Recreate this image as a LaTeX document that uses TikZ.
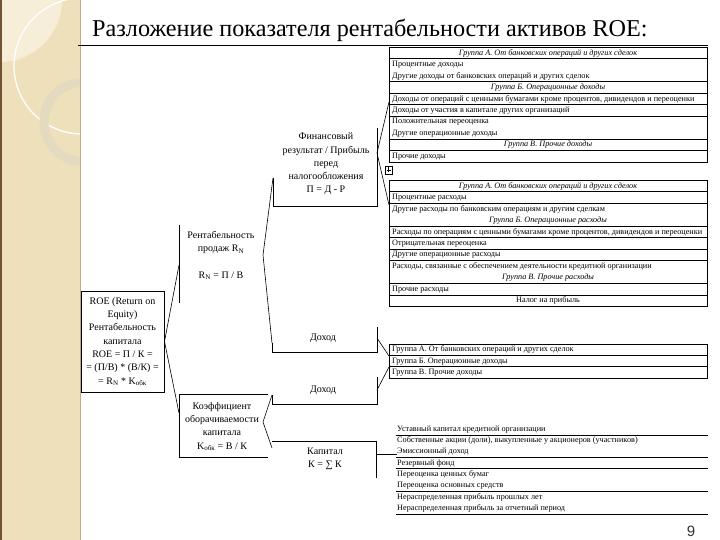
\documentclass[tikz,border=0pt]{standalone}
\usepackage{fontspec}
\setmainfont{Liberation Serif}
\newfontfamily\nomerfont{Liberation Sans}
\usetikzlibrary{positioning}
\usetikzlibrary{calc}
\definecolor{bezh}{RGB}{238,224,186}
\definecolor{bezhsvet}{RGB}{246,238,216}
\definecolor{bezhkrug}{RGB}{228,218,192}
\definecolor{korich}{RGB}{112,82,52}
\definecolor{korichsvet}{RGB}{196,168,128}
\newcommand{\rowh}{11.45}
\tikzset{
  diagramma/.style={
    box text/.style={font={\fontsize{10}{13.3}\selectfont},align=center,inner sep=0pt},
    sleva/.style={font={\fontsize{8.2}{9.8}\selectfont},anchor=west,inner sep=0pt,text height=5.7pt,text depth=1.6pt},
    centr/.style={sleva,anchor=center,xshift=156pt},
    grupp/.style={centr,font={\fontsize{8.2}{9.8}\selectfont\itshape}},
    tab frame/.style={draw,line width=1pt,anchor=north west,minimum width=318pt,inner sep=0pt},
    rama/.style={line width=1pt},
    svyaz/.style={line width=0.6pt},
  }
}
\newcommand{\tablica}[4]{
    \foreach \t/\s [count=\i] in {#4}{
        \pgfmathsetmacro{\yy}{#2+\rowh*(\i-0.5)}
        \node[\s] (#1-\i) at (392,\yy) {\t};
    }
    \foreach \k in {#3}{
        \pgfmathsetmacro{\yy}{#2+\rowh*\k}
        \draw[rama] (389,\yy) -- (707,\yy);
    }
}

\begin{document}
\begin{tikzpicture}[diagramma, x=1pt, y=-1pt]
    \useasboundingbox (0,0) rectangle (720,540);

    % polosa sleva
    \fill[bezh] (0,0) rectangle (80,540);
    \begin{scope}
    \clip (0,0) rectangle (80,540);
    \fill[bezhsvet] (0,0) circle (62pt);
    \draw[white,line width=1.3pt] (82,66) circle (68pt);
    \draw[bezhkrug,line width=9pt] (84,122) circle (40pt);
    \end{scope}
    \draw[korich,line width=1.5pt] (0.75,0) -- (0.75,540);
    \draw[korichsvet,line width=0.8pt] (80,0) -- (80,540);

    \node[anchor=base west,inner sep=0pt,font={\fontsize{24.2}{28}\selectfont}] (zagolovok) at (92,37)
        {Разложение показателя рентабельности активов ROE:};
    \draw[line width=1.1pt] (78,45.5) -- (708,45.5);

    % levaya chast
    \node[box text,draw,rama,minimum width=83pt,minimum height=101pt] (roe) at (122.5,341.5)
        {ROE (Return on\\ Equity)\\ Рентабельность\\ капитала\\ ROE = П / К =\\ = (П/В) * (В/К) =\\ = R\textsubscript{N} * K\textsubscript{обк}};
    \node[box text] (rent) at (221,255.5)
        {Рентабельность\\ продаж R\textsubscript{N}\\[13.3pt] R\textsubscript{N} = П / В};
    \node[box text] (koef) at (222,426.5)
        {Коэффициент\\ оборачиваемости\\ капитала\\ K\textsubscript{обк} = В / К};
    \node[box text] (finrez) at (326,164)
        {Финансовый\\ результат / Прибыль\\ перед\\ налогообложения\\ П = Д - Р};
    \node[box text] (dohod1) at (323,338) {Доход};
    \node[box text] (dohod2) at (323,390) {Доход};
    \node[box text] (kapital) at (325,459) {Капитал\\ К = ∑ К};

    \draw[rama] (179,225) -- (179,303);
    \draw[rama] (268,394) -- (179,394) -- (179,457) -- (268,457);
    \draw[rama] (273,178) -- (273,207) -- (377,207) -- (377,128);
    \draw[rama] (272,343) -- (272,352) -- (377,352) -- (377,327);
    \draw[rama] (272,395) -- (272,404) -- (377,404) -- (377,377);
    \draw[rama] (272,441) -- (376,441) -- (376,478);

    \coordinate (rent-l) at (179,265);
    \coordinate (koef-l) at (179,413);
    \coordinate (rent-v) at (263,255);
    \coordinate (fin-l) at (273,178);
    \coordinate (doh1-l) at (272,343);
    \coordinate (koef-v) at (263,422);
    \coordinate (doh2-l) at (272,395);
    \coordinate (kap-l) at (272,448);
    \coordinate (fin-v) at (377,153);
    \coordinate (dohody-l) at (389,102);
    \coordinate (rashody-l) at (389,205);
    \coordinate (doh1-v) at (377,338);
    \coordinate (gruppy-l1) at (389,356);
    \coordinate (doh2-v) at (377,390);
    \coordinate (gruppy-l2) at (389,367);
    \coordinate (kap-v) at (376,454);
    \coordinate (sostav-l) at (397,454);

    \draw[svyaz] (roe.east) -- (rent-l) (roe.east) -- (koef-l);
    \draw[svyaz] (rent-v) -- (fin-l) (rent-v) -- (doh1-l);
    \draw[svyaz] (koef-v) -- (doh2-l) (koef-v) -- (kap-l);
    \draw[svyaz] (fin-v) -- (dohody-l) (fin-v) -- (rashody-l);
    \draw[svyaz] (doh1-v) -- (gruppy-l1) (doh2-v) -- (gruppy-l2);
    \draw[svyaz] (kap-v) -- (sostav-l);

    % tablicy
    \node[tab frame,minimum height=114.5pt] (dohody) at (389,47.5) {};
    \tablica{d}{47.5}{1,3,4,5,6,8,9}{
        {Группа А. От банковских операций и других сделок}/grupp,
        {Процентные доходы}/sleva,
        {Другие доходы от банковских операций и других сделок}/sleva,
        {Группа Б. Операционные доходы}/grupp,
        {Доходы от операций с ценными бумагами кроме процентов, дивидендов и переоценки}/sleva,
        {Доходы от участия в капитале других организаций}/sleva,
        {Положительная переоценка}/sleva,
        {Другие операционные доходы}/sleva,
        {Группа В. Прочие доходы}/grupp,
        {Прочие доходы}/sleva}

    \draw[line width=0.5pt] (385,166) rectangle (392,174)
        (388.5,167.5) -- (388.5,172.5) (386.5,170) -- (390.5,170);
    \node[tab frame,minimum height=125.95pt] (rashody) at (389,180.5) {};
    \tablica{r}{180.5}{1,2,4,5,6,7,9,10}{
        {Группа А. От банковских операций и других сделок}/grupp,
        {Процентные расходы}/sleva,
        {Другие расходы по банковским операциям и другим сделкам}/sleva,
        {Группа Б. Операционные расходы}/grupp,
        {Расходы по операциям с ценными бумагами кроме процентов, дивидендов и переоценки}/sleva,
        {Отрицательная переоценка}/sleva,
        {Другие операционные расходы}/sleva,
        {Расходы, связанные с обеспечением деятельности кредитной организации}/sleva,
        {Группа В. Прочие расходы}/grupp,
        {Прочие расходы}/sleva,
        {Налог на прибыль}/centr}

    \node[tab frame,minimum height=34.35pt] (gruppy) at (389,344) {};
    \tablica{g}{344}{1,2}{
        {Группа А. От банковских операций и других сделок}/sleva,
        {Группа Б. Операционные доходы}/sleva,
        {Группа В. Прочие доходы}/sleva}

    \foreach \t [count=\i] in {
        Уставный капитал кредитной организации,
        {Собственные акции (доли), выкупленные у акционеров (участников)},
        Эмиссионный доход,
        Резервный фонд,
        Переоценка ценных бумаг,
        Переоценка основных средств,
        Нераспределенная прибыль прошлых лет,
        Нераспределенная прибыль за отчетный период}{
        \node[sleva] (sostav-\i) at (397,417.6+11.35*\i) {\t};
    }
    \foreach \y in {435,457,468.5,491.4,514}
        \draw[rama] (396,\y) -- (708,\y);

    \node[anchor=base,font={\nomerfont\fontsize{15}{18}\selectfont},text=black!80] (nomer) at (691,536) {9};
\end{tikzpicture}
\end{document}
